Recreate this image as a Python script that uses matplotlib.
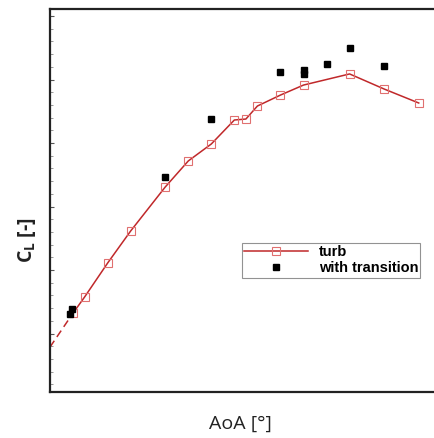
import matplotlib
matplotlib.use("Agg")
import matplotlib.pyplot as plt
from matplotlib.ticker import MultipleLocator

# Data (axes carry no numeric labels)
aoa_turb = [0, 1, 3, 5, 8, 10, 12, 14, 15, 16, 18, 20, 24, 27, 30]
cl_turb = [0.129, 0.230, 0.444, 0.646, 0.923, 1.087, 1.194, 1.345, 1.351,
           1.433, 1.502, 1.565, 1.635, 1.540, 1.452]

aoa_trans = [-0.3, -0.1, 8, 12, 18, 20, 20, 22, 24, 27]
cl_trans = [0.123, 0.154, 0.986, 1.351, 1.647, 1.660, 1.635, 1.698, 1.798, 1.685]

# dashed extrapolation of the turbulent curve towards the axis
aoa_extrap = [-2.0, 0.0]
cl_extrap = [-0.085, 0.129]

fig = plt.figure(figsize=(4.35, 4.38), dpi=100)
ax = fig.add_axes([50/435, 1-392/438, 1.005-50/435, (392-9)/438])

red = "#c0282a"
ax.plot(aoa_extrap, cl_extrap, color=red, lw=1.1, ls=(0, (5, 3)))
ax.plot(aoa_turb, cl_turb, color=red, lw=1.1, marker="s", ms=5.2,
        mfc="none", mec="#e07070", mew=0.8, label="turb")
ax.plot(aoa_trans, cl_trans, ls="none", marker="s", ms=4.8, color="black",
        label="with transition")

ax.set_xlim(-2, 31.6)
ax.set_ylim(-0.368, 2.044)

ax.set_xticks([])
ax.yaxis.set_major_locator(MultipleLocator(0.4))
ax.yaxis.set_minor_locator(MultipleLocator(0.08))
ax.tick_params(axis="y", which="major", direction="in", length=3, width=0.8,
               labelleft=False, color="#555555")
ax.tick_params(axis="y", which="minor", direction="in", length=2, width=0.6,
               color="#888888")
for s in ["left", "top", "bottom"]:
    ax.spines[s].set_linewidth(1.6)
    ax.spines[s].set_color("#222222")
ax.spines["right"].set_visible(False)

fig.text(240/435, 1-424/438, "AoA [°]", ha="center", va="center",
         fontsize=14, family="Open Sans", color="#222222")
fig.text(27/435, 1-240/438, r"C$_\mathregular{L}$ [-]", ha="center",
         va="center", rotation=90, fontsize=14, family="Open Sans",
         fontweight="bold", color="#222222")

leg = ax.legend(loc="upper left", bbox_to_anchor=(242/435, 1-243/438),
                bbox_transform=fig.transFigure, frameon=True, fancybox=False,
                prop={"family": "Liberation Sans", "weight": "bold",
                      "size": 10.5},
                handlelength=4.4, handletextpad=0.7, labelspacing=0.15,
                borderpad=0.15, borderaxespad=0, numpoints=1)
leg.get_frame().set_edgecolor("#777777")
leg.get_frame().set_linewidth(0.8)

fig.savefig("out.png", dpi=100)
